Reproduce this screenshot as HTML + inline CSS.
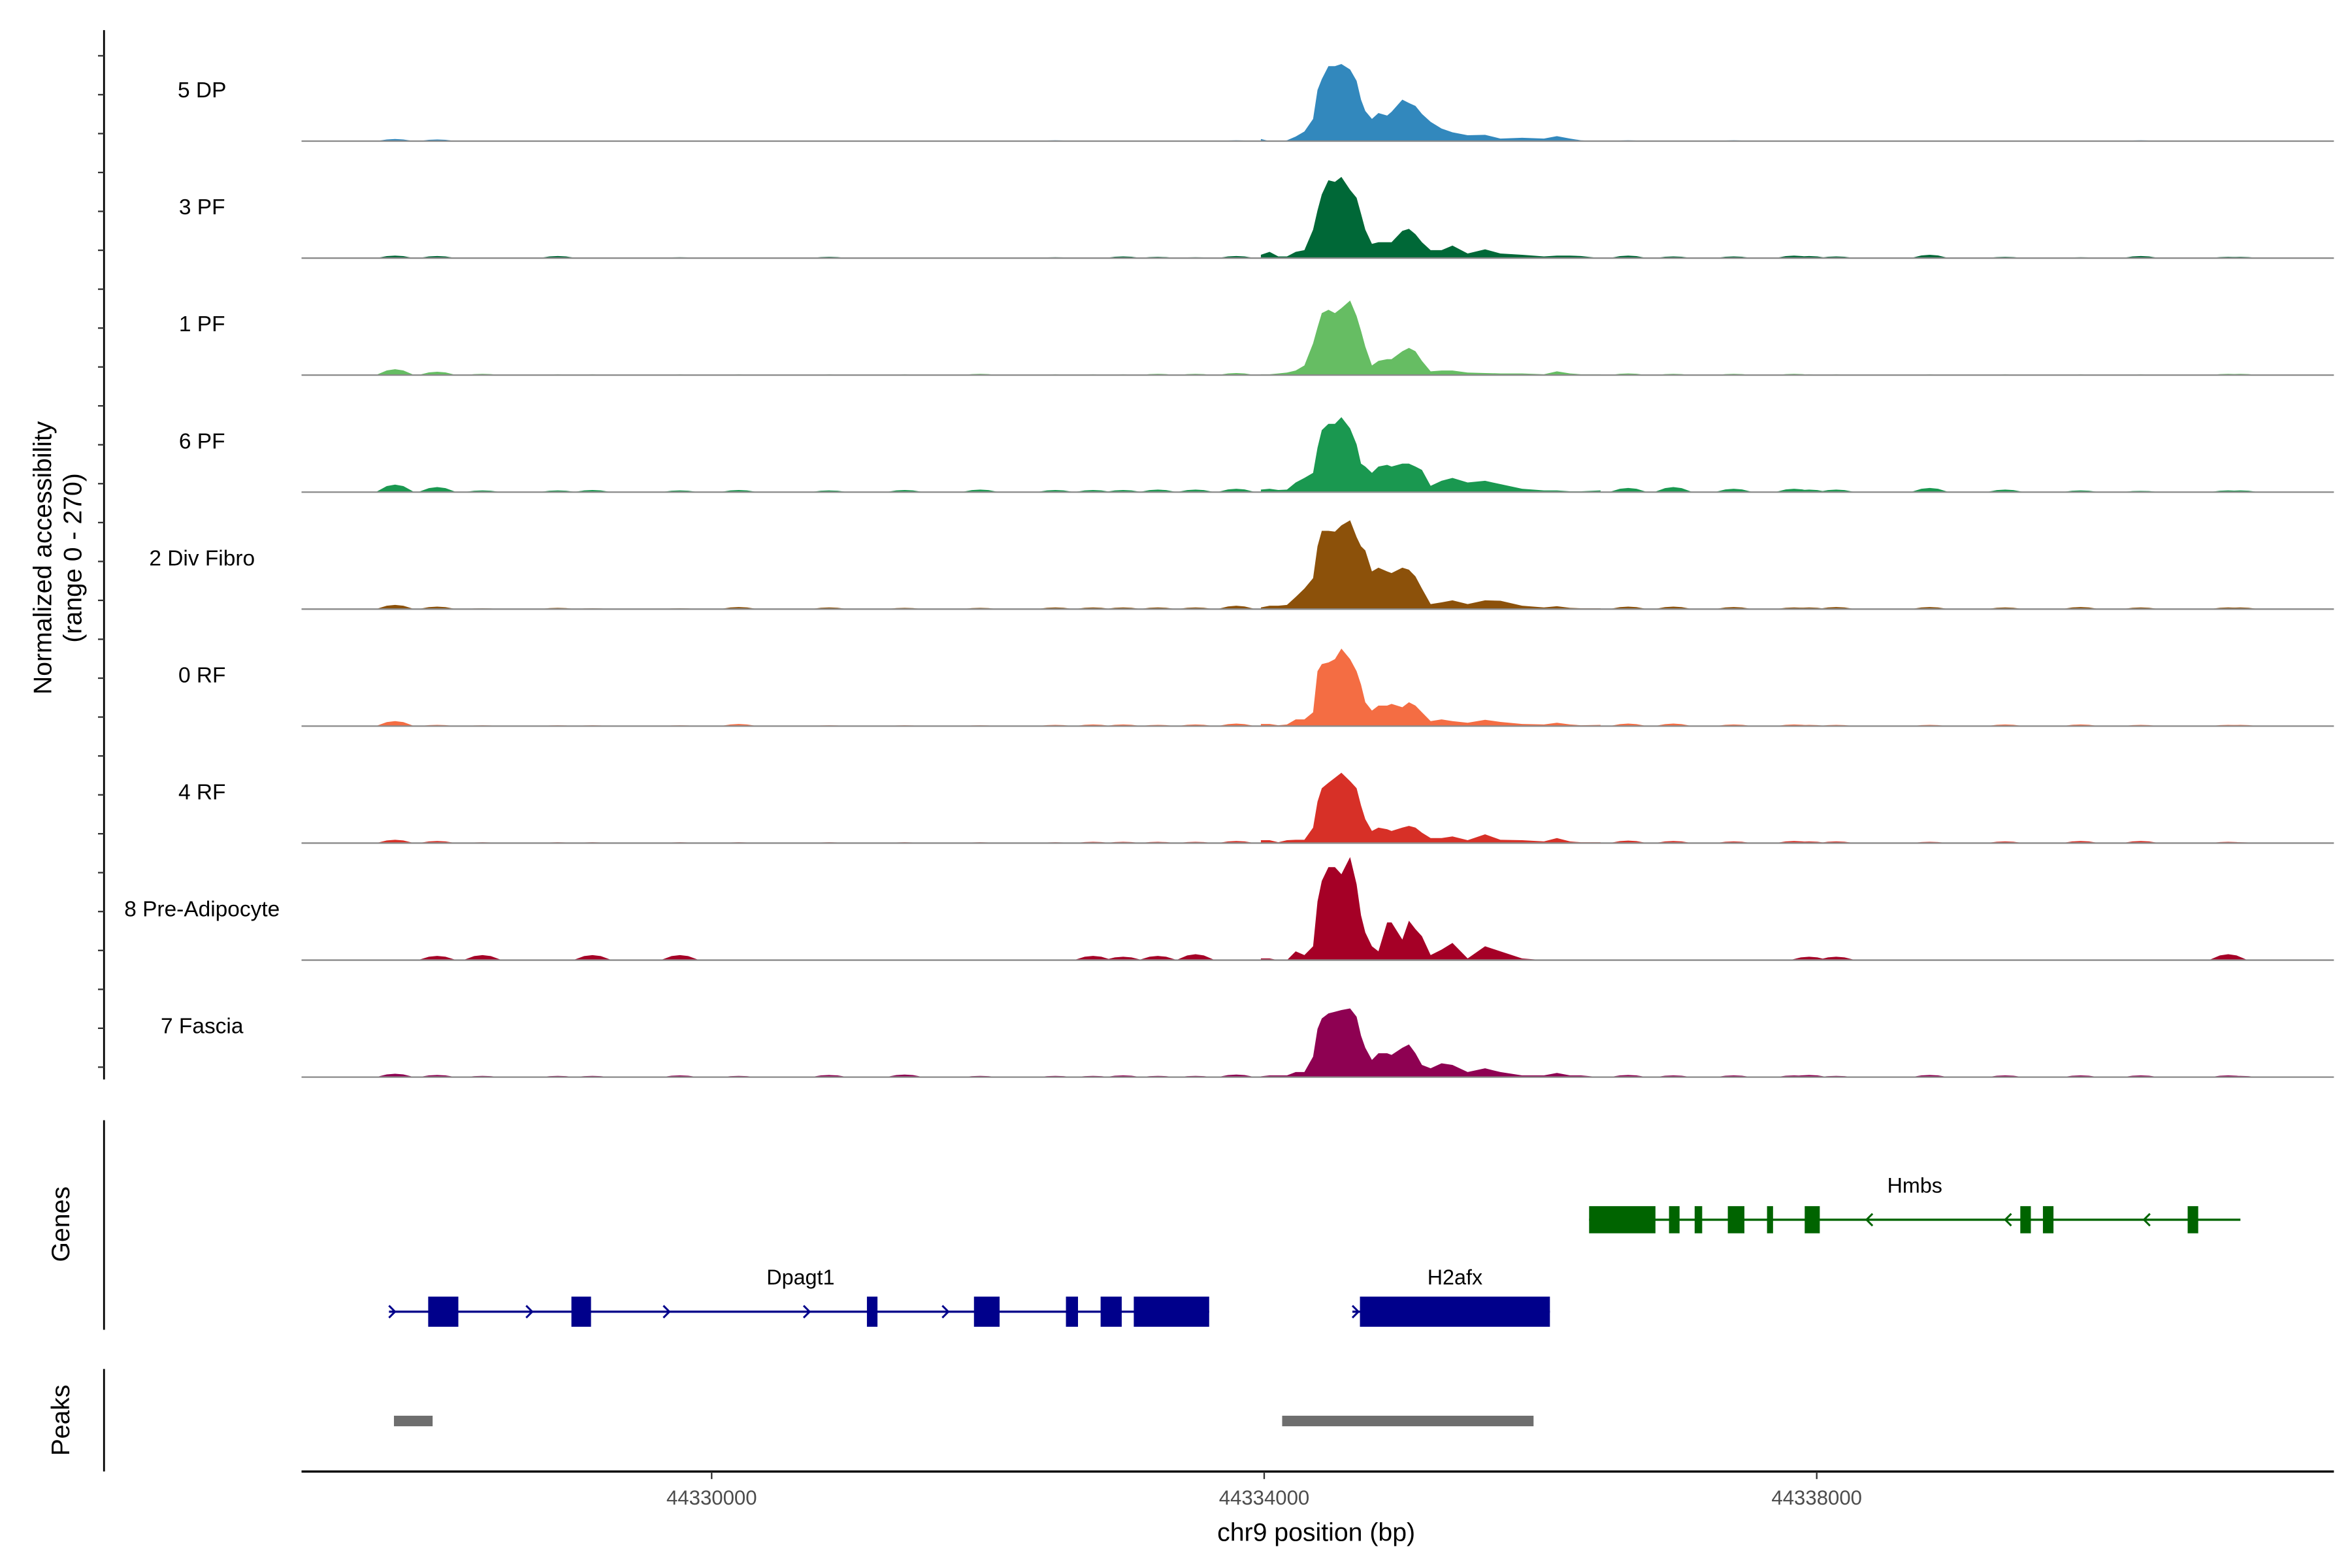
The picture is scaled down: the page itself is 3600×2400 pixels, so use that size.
<!DOCTYPE html>
<html><head><meta charset="utf-8"><style>
html,body{margin:0;padding:0;background:#fff;}
svg{display:block;font-family:"Liberation Sans",Arial,sans-serif;}
</style></head><body>
<svg id="chart" width="3600" height="2400" viewBox="0 0 1560 1040" xmlns="http://www.w3.org/2000/svg">
<rect x="0" y="0" width="1560" height="1040" fill="#fff"/>
<g id="tracks"></g>
<g id="left-axis"></g>
<text transform="translate(34,370) rotate(-90)" text-anchor="middle" font-size="17" fill="#000">Normalized accessibility</text>
<text transform="translate(54,370) rotate(-90)" text-anchor="middle" font-size="17" fill="#000">(range 0 - 270)</text>

<g>
<line x1="69" y1="743" x2="69" y2="882" stroke="#000" stroke-width="1.2"/>
<text transform="translate(46,812) rotate(-90)" text-anchor="middle" font-size="17">Genes</text>
<g id="genes"></g>
</g>
<g>
<line x1="69" y1="908" x2="69" y2="976" stroke="#000" stroke-width="1.2"/>
<text transform="translate(46,942) rotate(-90)" text-anchor="middle" font-size="17">Peaks</text>
<g id="peaks"></g>
</g>
<g id="xaxis">
<line x1="200" y1="976" x2="1548" y2="976" stroke="#000" stroke-width="1.5"/>
</g>
<text x="873" y="1022" text-anchor="middle" font-size="17">chr9 position (bp)</text>
</svg>
<script>
const trackNames = ["5 DP","3 PF","1 PF","6 PF","2 Div Fibro","0 RF","4 RF","8 Pre-Adipocyte","7 Fascia"];
const trackColors = ["#3288bd","#006837","#66bd63","#1a9850","#8c510a","#f46d43","#d73027","#a50026","#8e0152"];
const peakPos = [44333976,44334039,44334102,44334165,44334228,44334291,44334354,44334386,44334417,44334465,44334512,44334559,44334622,44334669,44334701,44334732,44334780,44334827,44334890,44334922,44335000,44335048,44335095,44335142,44335205,44335284,44335363,44335473,44335599,44335710,44335867,44336025,44336119,44336214,44336293,44336435];
const peak5DP = [5,0,0,2,11,23,53,122,148,179,179,184,171,144,99,72,53,67,61,70,99,91,84,65,46,30,21,14,15,6,8,6,12,6,2,0];
const peak3PF = [8,15,4,4,15,19,68,114,152,186,182,194,163,144,106,68,34,38,38,38,65,70,57,38,19,19,30,11,21,11,8,4,6,6,5,0];
const peak1PF = [2,2,4,6,11,23,76,114,148,156,148,160,178,141,106,68,23,34,38,38,57,65,57,34,9,11,11,6,5,4,4,2,9,4,2,2];
const peak6PF = [6,8,5,6,23,34,46,106,148,163,163,179,152,114,68,61,46,61,65,61,68,68,61,53,15,27,34,23,27,19,8,4,4,2,2,4];
const peak2DF = [4,8,8,10,29,49,74,150,187,187,185,200,212,172,150,140,90,99,90,86,99,94,78,49,12,16,21,12,21,20,8,4,7,3,2,2];
const peak0RF = [5,5,2,4,16,16,33,131,148,152,160,185,160,131,99,57,37,49,49,53,45,57,49,33,12,16,12,8,15,10,5,4,8,4,2,3];
const peak4RF = [7,7,2,7,8,8,37,99,131,144,156,168,148,131,90,57,29,37,33,29,37,41,37,25,12,12,16,7,21,8,7,4,12,4,2,2];
const peak8PA = [4,4,0,0,21,12,33,140,189,222,222,205,246,181,107,66,33,21,90,90,49,94,74,57,12,25,41,4,33,21,4,0,0,0,0,0];
const peak7FA = [2,4,4,4,12,12,49,115,140,152,156,160,164,144,99,70,41,57,57,53,70,78,57,29,21,33,29,12,21,12,4,4,10,4,4,0];
const flankPos = [44327708,44328013,44328341,44328886,44329137,44329770,44330196,44330851,44331397,44331944,44332488,44332761,44332979,44333230,44333503,44333798,44336635,44336962,44337399,44337836,44337945,44338141,44338818,44339364,44339910,44340346,44340979,44341066];
const flank5DP = [5,4,0,1,0,1,0,1,1,1,2,1,1,1,1,2,2,1,2,1,1,1,1,1,1,2,1,0];
const flank3PF = [6,5,1,5,1,2,1,3,1,1,2,1,4,3,2,5,6,4,4,6,5,4,8,3,2,5,3,3];
const flank1PF = [14,8,3,2,2,2,2,2,2,3,2,2,2,3,3,5,4,3,3,3,2,2,2,2,2,2,3,3];
const flank6PF = [18,12,4,4,5,4,5,4,5,6,5,5,5,6,6,8,10,12,8,8,6,6,10,6,4,3,4,4];
const flank2DF = [10,6,2,3,2,2,5,4,3,3,4,4,4,4,4,8,6,6,5,4,4,5,5,4,5,4,4,4];
const flank0RF = [12,3,2,2,2,2,5,2,2,2,3,4,4,3,4,6,6,6,4,4,3,3,3,4,4,3,3,3];
const flank4RF = [8,5,2,2,2,2,2,2,2,2,2,3,3,3,3,5,6,5,4,5,4,4,3,4,5,5,3,2];
const flank8PA = [0,10,12,0,12,12,0,0,0,0,0,10,8,10,14,0,0,0,0,0,8,8,0,0,0,0,14,0];
const flank7FA = [8,5,3,3,3,4,3,5,6,3,3,3,4,3,3,6,5,4,4,4,5,3,5,4,4,4,4,3];
const peakSeries = [peak5DP,peak3PF,peak1PF,peak6PF,peak2DF,peak0RF,peak4RF,peak8PA,peak7FA];
const flankSeries = [flank5DP,flank3PF,flank1PF,flank6PF,flank2DF,flank0RF,flank4RF,flank8PA,flank7FA];
const xTicks = [44330000,44334000,44338000];
const xTickLabels = ["44330000","44334000","44338000"];
const peakRegions = [[44327700,44327980],[44334130,44335950]];

const NS="http://www.w3.org/2000/svg";
const X0=44327031, X1=44341744, PX0=200, PX1=1548;
function xs(bp){return PX0+(bp-X0)*(PX1-PX0)/(X1-X0);}
const trackTop=16, trackStep=77.6, trackH=75, vmax=270;
function baseY(i){return trackTop+trackStep*(i+1);}
function ys(i,v){return baseY(i)-v*trackH/vmax;}
function mk(tag,attrs,parent){const e=document.createElementNS(NS,tag);for(const k in attrs)e.setAttribute(k,attrs[k]);parent.appendChild(e);return e;}

const tg=document.getElementById('tracks');
trackNames.forEach((name,i)=>{
  const g=mk('g',{},tg);
  
  
  const b=baseY(i);
  const ps=peakSeries[i];
  let pts=xs(peakPos[0]).toFixed(2)+','+b;
  ps.forEach((v,j)=>{pts+=' '+xs(peakPos[j]).toFixed(2)+','+ys(i,v).toFixed(2);});
  pts+=' '+xs(peakPos[peakPos.length-1]).toFixed(2)+','+b;
  const poly=mk('polygon',{points:pts,fill:trackColors[i]},g);
  
  
  flankSeries[i].forEach((v,j)=>{
    if(v<=0)return;
    const c=flankPos[j];
    const p=[[c-140,0],[c-60,v*0.8],[c,v],[c+60,v*0.8],[c+140,0]].map(q=>xs(q[0]).toFixed(2)+','+ys(i,q[1]).toFixed(2)).join(' ');
    const bump=mk('polygon',{points:p,fill:trackColors[i]},g);
    
    
  });
  const ln=mk('line',{x1:PX0,x2:PX1,y1:b,y2:b,stroke:'#8a8a8a','stroke-width':1},g);
  
  
  const t=mk('text',{x:134,y:b-29,'text-anchor':'middle','font-size':14.5,fill:'#000'},g);
  t.textContent=name;
  
  
});

const la=document.getElementById('left-axis');
mk('line',{x1:69,y1:20,x2:69,y2:716,stroke:'#000','stroke-width':1.2},la);
for(let y=37;y<716;y+=25.8){
  const tk=mk('line',{x1:65,y1:y,x2:69,y2:y,stroke:'#333','stroke-width':1},la);
  
  
}

// genes
const gg=document.getElementById('genes');
function gene(name,color,lineFrom,lineTo,y,exons,arrows,dir,labelX,labelY){
  const g=mk('g',{},gg);
  
  
  mk('line',{x1:xs(lineFrom),x2:xs(lineTo),y1:y,y2:y,stroke:color,'stroke-width':1.5},g);
  exons.forEach(e=>{const r=mk('rect',{x:xs(e[0]),y:y-e[2]/2,width:xs(e[1])-xs(e[0]),height:e[2],fill:color},g);
    });
  arrows.forEach(a=>{const x=xs(a);const d=dir>0?`M${x-4},${y-4} L${x},${y} L${x-4},${y+4}`:`M${x+4},${y-4} L${x},${y} L${x+4},${y+4}`;
    mk('path',{d:d,stroke:color,'stroke-width':1.3,fill:'none'},g);});
  const t=mk('text',{x:labelX,y:labelY,'text-anchor':'middle','font-size':14},g);
  t.textContent=name;
  
  
}
function bp(x){return X0+(x-PX0)*(X1-X0)/(PX1-PX0);}
gene('Hmbs','#006400',bp(1054),bp(1486),809,
 [[bp(1054),bp(1098),18],[bp(1107),bp(1114),18],[bp(1124),bp(1129),18],[bp(1146),bp(1157),18],[bp(1172),bp(1176),18],[bp(1197),bp(1207),18],[bp(1340),bp(1347),18],[bp(1355),bp(1362),18],[bp(1451),bp(1458),18]],
 [bp(1238),bp(1330),bp(1422)],-1,1270,791);
gene('Dpagt1','#00008b',bp(258),bp(802),870,
 [[bp(284),bp(304),20],[bp(379),bp(392),20],[bp(575),bp(582),20],[bp(646),bp(663),20],[bp(707),bp(715),20],[bp(730),bp(744),20],[bp(752),bp(802),20]],
 [bp(262),bp(353),bp(444),bp(537),bp(629)],1,531,852);
gene('H2afx','#00008b',bp(897),bp(1028),870,[[bp(902),bp(1028),20]],[bp(901)],1,965,852);

const pk=document.getElementById('peaks');
peakRegions.forEach(r=>{
  const rc=mk('rect',{x:xs(r[0]),y:939,width:xs(r[1])-xs(r[0]),height:7,fill:'#6e6e6e'},pk);
  
  
});

const xa=document.getElementById('xaxis');
xTicks.forEach((v,i)=>{
  const x=xs(v);
  const tk=mk('line',{x1:x,x2:x,y1:976,y2:981,stroke:'#333','stroke-width':1},xa);
  
  
  const t=mk('text',{x:x,y:998,'text-anchor':'middle','font-size':13.5,fill:'#4d4d4d'},xa);
  t.textContent=xTickLabels[i];
  
  
});
</script>
</body></html>
